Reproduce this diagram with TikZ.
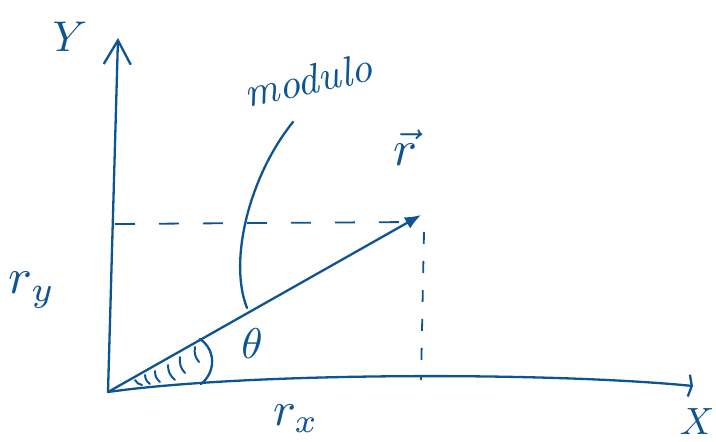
\documentclass[tikz,border=0pt]{standalone}
\usepackage{tikz}
\usetikzlibrary{arrows.meta}
\definecolor{ink}{RGB}{14,84,146}

\begin{document}
\begin{tikzpicture}[x=1pt, y=-1pt, line cap=round, line join=round,
      stroke/.style={draw=ink, line width=2.3pt},
      dashline/.style={stroke, line width=1.8pt, line cap=butt},
      lbl/.style={text=ink, inner sep=0pt}]
    \useasboundingbox (0,0) rectangle (716,442);
    % axes and vector
    \coordinate (O) at (108,392);
    \coordinate (ytip) at (118,38);
    \coordinate (xtip) at (693,386);
    \coordinate (rtip) at (421,215);
    \draw[stroke, -{Straight Barb[length=24pt, width=27pt, line width=2.3pt]}] (O) -- (ytip);
    \draw[stroke, -{Straight Barb[length=3pt, width=22pt, line width=2.3pt]}]
      (O) .. controls (250,372) and (550,372) .. (xtip);
    \draw[stroke, -{Latex[length=16pt, width=13pt]}] (O) -- (rtip);
    % projections
    \coordinate (yproj) at (115,224);
    \coordinate (xproj) at (421,380);
    \draw[dashline, dash pattern=on 20pt off 24pt] (yproj) -- (412,222);
    \draw[dashline, dash pattern=on 12pt off 17pt] (424,232) -- (xproj);
    % angle
    \coordinate (a1) at (200,339);
    \coordinate (a2) at (201,384);
    \draw[stroke] (a1) .. controls (216,350) and (216,372) .. (a2);
    \foreach \xa/\ya/\xb/\yb in {135/380/142/385, 145/375/150/384, 155/371/160/382,
                                 168/365/175/380, 180/357/185/373, 195/347/199/362}
      \draw[stroke, line width=2pt] (\xa,\ya) to[bend right=25] (\xb,\yb);
    % labels
    \node[lbl, scale=4.3] (ylab) at (70,37) {$Y$};
    \node[lbl, scale=3.8] (xlab) at (697,422) {$X$};
    \node[lbl, scale=5] (rylab) at (32,290) {$r_y$};
    \node[lbl, scale=4.8] (rxlab) at (296,419) {$r_x$};
    \node[lbl, scale=4.3] (theta) at (252,344) {$\theta$};
    \node[lbl, scale=5] (rvec) at (405,148) {$\vec{r}$};
    \node[lbl, scale=4.2, rotate=12] (mod) at (308,80) {\textit{modulo}};
    \coordinate (mstart) at (293,122);
    \coordinate (mend) at (247,308);
    \draw[stroke] (mstart) .. controls (250,175) and (228,260) .. (mend);
\end{tikzpicture}
\end{document}
